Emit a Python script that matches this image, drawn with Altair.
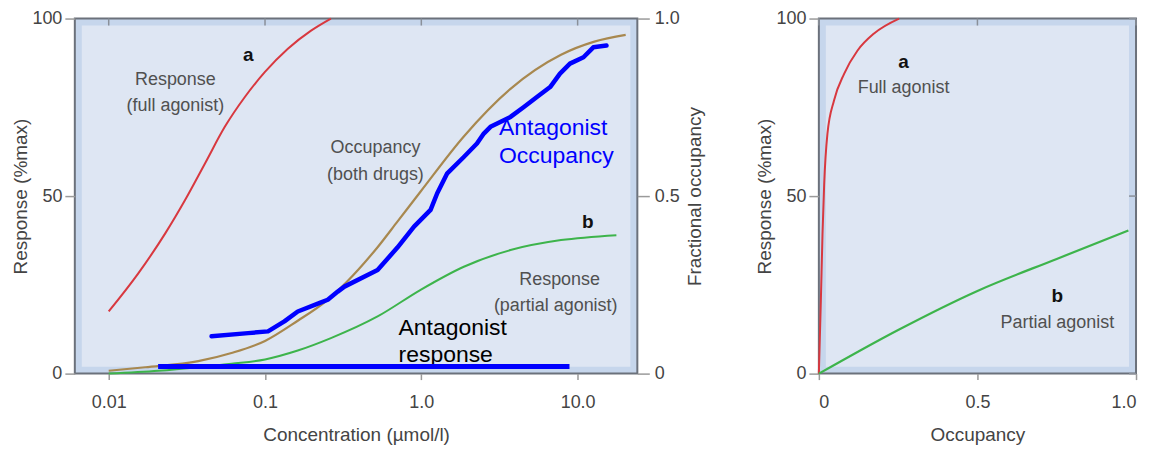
import altair as alt
import pandas as pd

# ---------------- data ----------------
# Left panel: concentration (µmol/l) vs response (%max) / fractional occupancy
red_conc = [0.01, 0.0155, 0.023, 0.0308, 0.0413, 0.0553, 0.0743, 0.0996, 0.140, 0.197, 0.264]
red_resp = [17.5, 28.3, 39.5, 48.9, 59.2, 69.5, 77.9, 84.9, 91.5, 96.6, 100]

green_conc = [0.01, 0.0208, 0.0374, 0.0611, 0.1, 0.162, 0.264, 0.525, 0.99, 1.87, 3.72, 7.83, 17.7]
green_resp = [0, 0.8, 1.8, 2.8, 4.0, 6.5, 10.0, 16.1, 23.6, 30.1, 34.8, 37.6, 39.0]

tan_conc = [0.01, 0.0171, 0.0374, 0.061, 0.1, 0.162, 0.239, 0.525, 0.703, 0.99, 1.87, 3.72, 7.83, 12.8, 20.3]
tan_occ = [0.008, 0.018, 0.035, 0.058, 0.092, 0.149, 0.2, 0.356, 0.428, 0.513, 0.668, 0.802, 0.898, 0.935, 0.954]

ant_occ_conc = [0.0455, 0.078, 0.1045, 0.133, 0.162, 0.224, 0.252, 0.292, 0.322, 0.525, 0.703, 0.898,
                1.146, 1.264, 1.465, 1.87, 2.27, 2.51, 2.77, 3.72, 4.53, 5.49, 6.67, 7.71, 8.93,
                10.9, 12.6, 15.3]
ant_occ_val = [0.105, 0.114, 0.119, 0.147, 0.175, 0.199, 0.208, 0.231, 0.245, 0.292, 0.355, 0.414,
               0.461, 0.508, 0.564, 0.610, 0.648, 0.676, 0.695, 0.723, 0.751, 0.779, 0.807, 0.845,
               0.873, 0.891, 0.919, 0.924]

ant_resp_conc = [0.0207, 8.87]
ant_resp_val = [2.0, 2.0]

# Right panel: occupancy vs response (%max)
full_occ = [0, 0.0063, 0.0115, 0.0168, 0.027, 0.048, 0.08, 0.122, 0.174, 0.253]
full_resp = [0, 20.5, 39.3, 53.4, 67.5, 77.0, 84.5, 91.0, 95.8, 100]
part_occ = [0, 0.25, 0.5, 0.75, 0.976]
part_resp = [0, 12.3, 23.3, 32.3, 40.3]

# tick labels
conc_ticks = [0.01, 0.1, 1, 10]
conc_tick_labels = ["0.01", "0.1", "1.0", "10.0"]
resp_ticks = [0, 50, 100]
frac_ticks = [0, 0.5, 1]
frac_tick_labels = ["0", "0.5", "1.0"]

# annotations (text, x, y)
left_gray_text = ["Response", "(full agonist)", "Occupancy", "(both drugs)", "Response", "(partial agonist)"]
left_gray_x = [0.0267, 0.0267, 0.509, 0.509, 7.67, 7.24]
left_gray_y = [82.6, 75.3, 63.5, 55.9, 26.4, 19.1]
left_bold_text = ["a", "b"]
left_bold_x = [0.078, 11.6]
left_bold_y = [89.6, 42.7]
blue_text = ["Antagonist", "Occupancy"]
blue_x = [3.14, 3.14]
blue_y = [69.1, 61.2]
black_text = ["Antagonist", "response"]
black_x = [0.715, 0.715]
black_y = [12.9, 5.3]

right_gray_text = ["Full agonist", "Partial agonist"]
right_gray_x = [0.267, 0.752]
right_gray_y = [80.3, 14.3]
right_bold_text = ["a", "b"]
right_bold_x = [0.267, 0.752]
right_bold_y = [87.7, 21.9]

# ---------------- styling ----------------
FONT = "Liberation Sans"
W1, W2, H = 564, 318, 356
RED, GREEN, TAN, BLUE = "#d8383f", "#3db44b", "#a8884f", "#0000ff"
TXT = "#505050"
TICK = "#8a9099"


def lbl_expr(vals, labels):
    parts = " : ".join(f"datum.value == {v} ? '{l}'" for v, l in zip(vals, labels))
    return parts + " : ''"


def inner_band(w, h):
    return alt.Chart(pd.DataFrame({"d": [0]})).mark_rect(fill="#dee6f3").encode(
        x=alt.value(7), x2=alt.value(w - 7), y=alt.value(7), y2=alt.value(h - 7))


X_CONC = dict(
    field="conc", type="quantitative",
    scale=alt.Scale(type="log", domain=[0.00607, 24.1]),
    axis=alt.Axis(values=conc_ticks, labelExpr=lbl_expr(conc_ticks, conc_tick_labels),
                  title="Concentration (µmol/l)", tickSize=6, labelPadding=14, titlePadding=14),
)
Y_RESP_L = dict(
    field="resp", type="quantitative",
    scale=alt.Scale(domain=[0, 100]),
    axis=alt.Axis(values=resp_ticks, title="Response (%max)", tickSize=10,
                  labelPadding=3, titlePadding=1),
)
Y_OCC_R = dict(
    field="occ", type="quantitative",
    scale=alt.Scale(domain=[0, 1]),
    axis=alt.Axis(orient="right", values=frac_ticks, labelExpr=lbl_expr(frac_ticks, frac_tick_labels),
                  title="Fractional occupancy", titleAngle=270, titleBaseline="top", tickSize=12,
                  labelPadding=5, titlePadding=6),
)


def xc():
    return alt.X(**X_CONC)


def yl():
    return alt.Y(**Y_RESP_L)


def yr():
    return alt.Y(**Y_OCC_R)


def txt_layer(texts, xs, ys, xname, yname, xenc, yenc, **mk):
    df = pd.DataFrame({xname: xs, yname: ys, "t": texts})
    return alt.Chart(df).mark_text(font=FONT, **mk).encode(x=xenc, y=yenc, text="t:N")


# ---- left panel ----
top_ticks_l = alt.Chart(pd.DataFrame({"conc": conc_ticks})).mark_rule(
    color=TICK, strokeWidth=1.5).encode(x=xc(), y=alt.value(0), y2=alt.value(7))

red = alt.Chart(pd.DataFrame({"conc": red_conc, "resp": red_resp})).mark_line(
    color=RED, strokeWidth=2, interpolate="monotone").encode(x=xc(), y=yl())
green = alt.Chart(pd.DataFrame({"conc": green_conc, "resp": green_resp})).mark_line(
    color=GREEN, strokeWidth=2, interpolate="monotone").encode(x=xc(), y=yl())

t_gray = txt_layer(left_gray_text, left_gray_x, left_gray_y, "conc", "resp", xc(), yl(),
                   fontSize=18, color=TXT, align="center", baseline="middle")
t_bold = txt_layer(left_bold_text, left_bold_x, left_bold_y, "conc", "resp", xc(), yl(),
                   fontSize=19, color="#111111", fontWeight="bold", align="center", baseline="middle")
t_blue = txt_layer(blue_text, blue_x, blue_y, "conc", "resp", xc(), yl(),
                   fontSize=23, color=BLUE, align="left", baseline="middle")
t_black = txt_layer(black_text, black_x, black_y, "conc", "resp", xc(), yl(),
                    fontSize=23, color="#000000", align="left", baseline="middle")

left_resp_layer = alt.layer(inner_band(W1, H), top_ticks_l, red, green, t_gray, t_bold, t_black, t_blue)

tan = alt.Chart(pd.DataFrame({"conc": tan_conc, "occ": tan_occ})).mark_line(
    color=TAN, strokeWidth=2.2, interpolate="monotone").encode(x=xc(), y=yr())
ant_occ = alt.Chart(pd.DataFrame({"conc": ant_occ_conc, "occ": ant_occ_val})).mark_line(
    color=BLUE, strokeWidth=4.5, strokeJoin="round", strokeCap="round").encode(x=xc(), y=yr())
ant_resp = alt.Chart(pd.DataFrame({"conc": ant_resp_conc, "resp": ant_resp_val})).transform_calculate(
    occ="datum.resp / 100").mark_line(color=BLUE, strokeWidth=5).encode(x=xc(), y=yr())

left_occ_layer = alt.layer(tan, ant_occ, ant_resp)

left = alt.layer(left_resp_layer, left_occ_layer).resolve_scale(y="independent").properties(
    width=W1, height=H)

# ---- right panel ----
X_OCC = alt.X("occ:Q", scale=alt.Scale(domain=[0, 1]),
              axis=alt.Axis(values=frac_ticks, labelExpr=lbl_expr(frac_ticks, frac_tick_labels),
                            title="Occupancy", tickSize=6, labelPadding=14, titlePadding=14))

top_ticks_r = alt.Chart(pd.DataFrame({"occ": frac_ticks})).mark_rule(
    color=TICK, strokeWidth=1.5).encode(x=X_OCC, y=alt.value(0), y2=alt.value(7))
side_ticks_r = alt.Chart(pd.DataFrame({"resp": resp_ticks})).mark_rule(
    color=TICK, strokeWidth=1.5).encode(y=yl(), x=alt.value(W2 - 7), x2=alt.value(W2))

r_red = alt.Chart(pd.DataFrame({"occ": full_occ, "resp": full_resp})).mark_line(
    color=RED, strokeWidth=2, interpolate="monotone").encode(x=X_OCC, y=yl())
r_green = alt.Chart(pd.DataFrame({"occ": part_occ, "resp": part_resp})).mark_line(
    color=GREEN, strokeWidth=2.2, interpolate="monotone").encode(x=X_OCC, y=yl())
r_gray = txt_layer(right_gray_text, right_gray_x, right_gray_y, "occ", "resp", X_OCC, yl(),
                   fontSize=18, color=TXT, align="center", baseline="middle")
r_bold = txt_layer(right_bold_text, right_bold_x, right_bold_y, "occ", "resp", X_OCC, yl(),
                   fontSize=19, color="#111111", fontWeight="bold", align="center", baseline="middle")

right = alt.layer(inner_band(W2, H), top_ticks_r, side_ticks_r, r_red, r_green, r_gray, r_bold).properties(
    width=W2, height=H)

chart = alt.hconcat(left, right, spacing=48).properties(
    padding={"left": 2, "top": 0, "right": 5, "bottom": 0},
    background="white",
).configure_view(
    fill="#c6d6ec", stroke="#6b717b", strokeWidth=2
).configure_axis(
    labelFont=FONT, titleFont=FONT, labelFontSize=18, titleFontSize=19,
    labelColor="#444444", titleColor="#444444", titleFontWeight="normal",
    tickColor="#9a9a9a", tickWidth=1.5, domain=False, grid=False,
)

chart.save("out.html", embed_options={"renderer": "svg", "actions": False})
